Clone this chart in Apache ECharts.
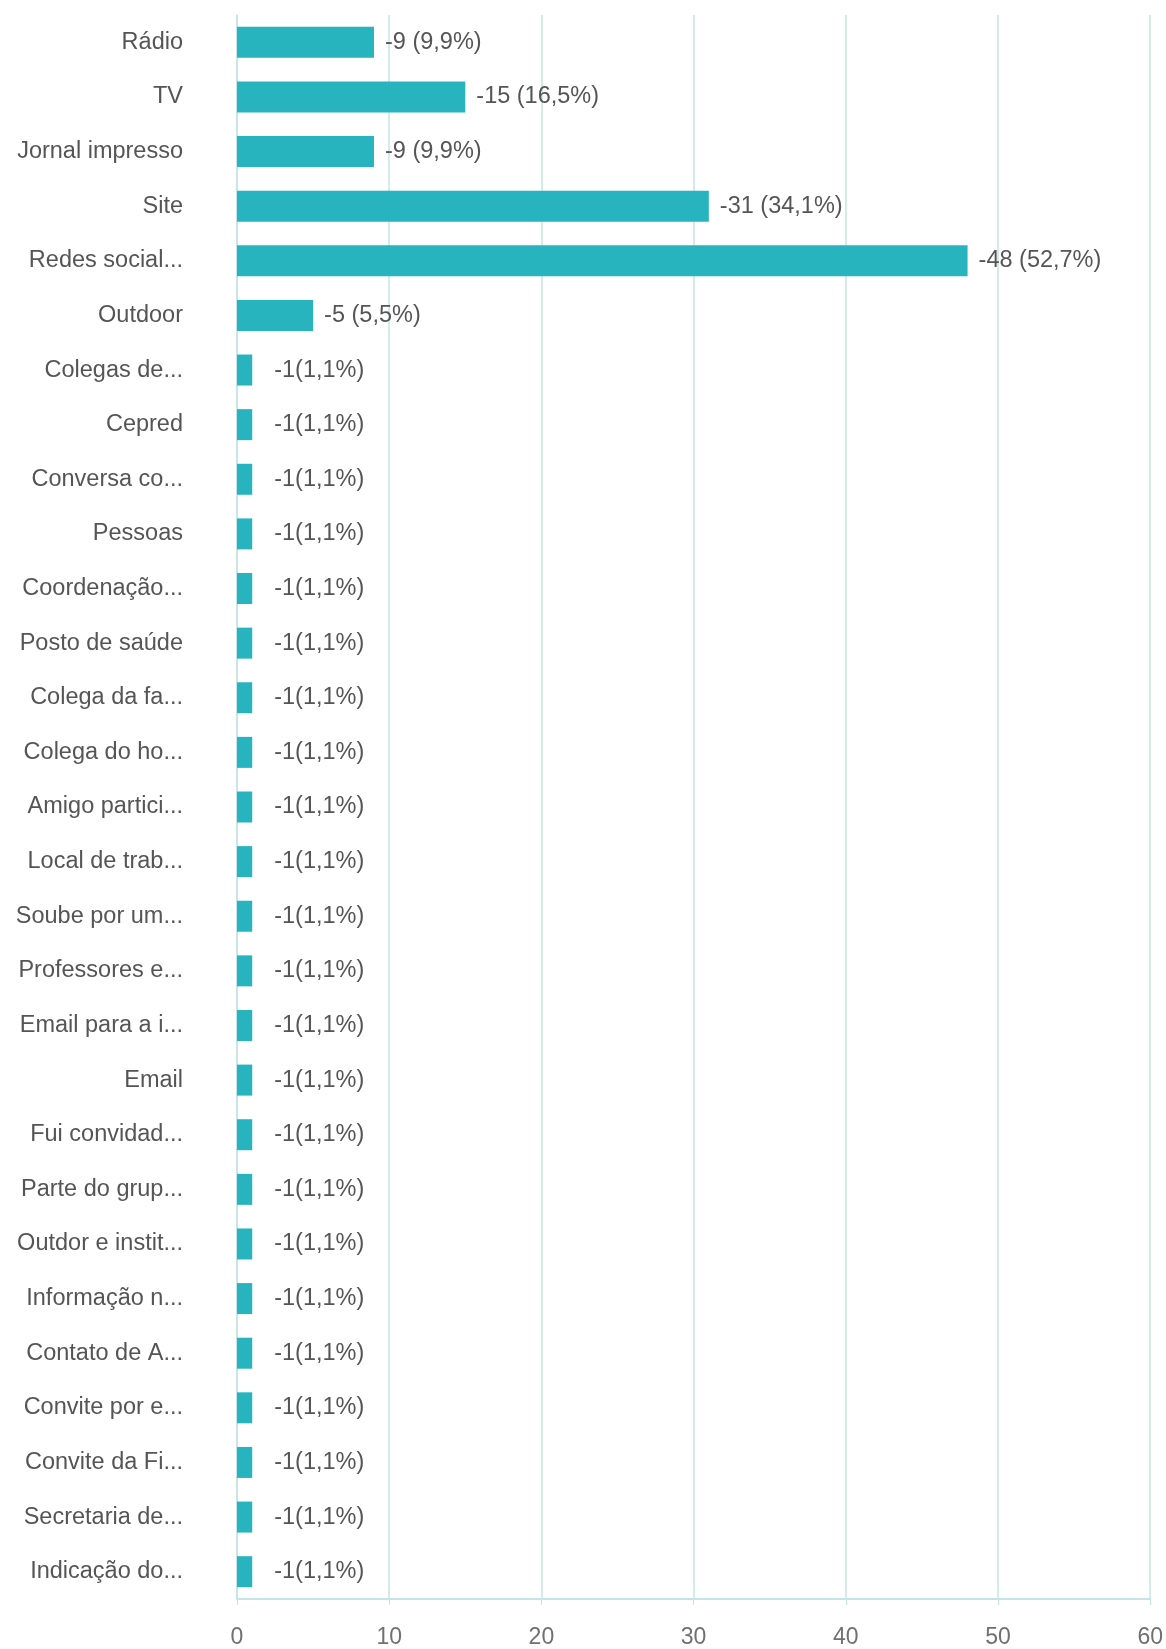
<!DOCTYPE html>
<html>
<head>
<meta charset="utf-8">
<script src="https://cdn.jsdelivr.net/npm/echarts@6/dist/echarts.min.js"></script>
<style>
html,body{margin:0;padding:0;background:#fff;}
#chart{width:1166px;height:1649px;}
</style>
</head>
<body>
<div id="chart"></div>
<script>
const categories = [
  "Rádio","TV","Jornal impresso","Site","Redes social...","Outdoor",
  "Colegas de...","Cepred","Conversa co...","Pessoas","Coordenação...",
  "Posto de saúde","Colega da fa...","Colega do ho...","Amigo partici...",
  "Local de trab...","Soube por um...","Professores e...","Email para a i...",
  "Email","Fui convidad...","Parte do grup...","Outdor e instit...",
  "Informação n...","Contato de A...","Convite por e...","Convite da Fi...",
  "Secretaria de...","Indicação do..."
];
const values = [9,15,9,31,48,5,1,1,1,1,1,1,1,1,1,1,1,1,1,1,1,1,1,1,1,1,1,1,1];
const percents = ["9,9","16,5","9,9","34,1","52,7","5,5","1,1","1,1","1,1","1,1","1,1","1,1","1,1","1,1","1,1","1,1","1,1","1,1","1,1","1,1","1,1","1,1","1,1","1,1","1,1","1,1","1,1","1,1","1,1"];
const xTicks = [0,10,20,30,40,50,60];

const chart = echarts.init(document.getElementById('chart'));
const font = "'Liberation Sans', Arial, sans-serif";
chart.setOption({
  animation: false,
  grid: {left: 237, right: 13, top: 15, bottom: 50, containLabel: false},
  xAxis: {
    type: 'value', min: xTicks[0], max: xTicks[xTicks.length-1], interval: 10,
    axisLine: {show: true, lineStyle: {color: '#c4e4e9', width: 2}},
    axisTick: {show: true, length: 6, lineStyle: {color: '#c4e4e9'}},
    splitLine: {show: true, lineStyle: {color: '#c4e4e9', width: 1.5}},
    axisLabel: {margin: 27, fontSize: 23, color: '#707070', fontFamily: font}
  },
  yAxis: {
    type: 'category', data: categories, inverse: true,
    axisLine: {show: true, lineStyle: {color: '#c4e4e9', width: 1.5}},
    axisTick: {show: false},
    axisLabel: {margin: 54, fontSize: 23.5, color: '#555', fontFamily: font}
  },
  series: [{
    type: 'bar',
    data: values.map(v => ({value: v, label: {distance: v > 1 ? 11 : 22}})),
    barWidth: 31,
    itemStyle: {color: '#28b4be'},
    label: {
      show: true, position: 'right',
      fontSize: 23.5, color: '#555', fontFamily: font,
      formatter: p => p.value > 1 ? ('-' + p.value + ' (' + percents[p.dataIndex] + '%)') : ('-' + p.value + '(' + percents[p.dataIndex] + '%)')
    }
  }]
});
</script>
</body>
</html>
